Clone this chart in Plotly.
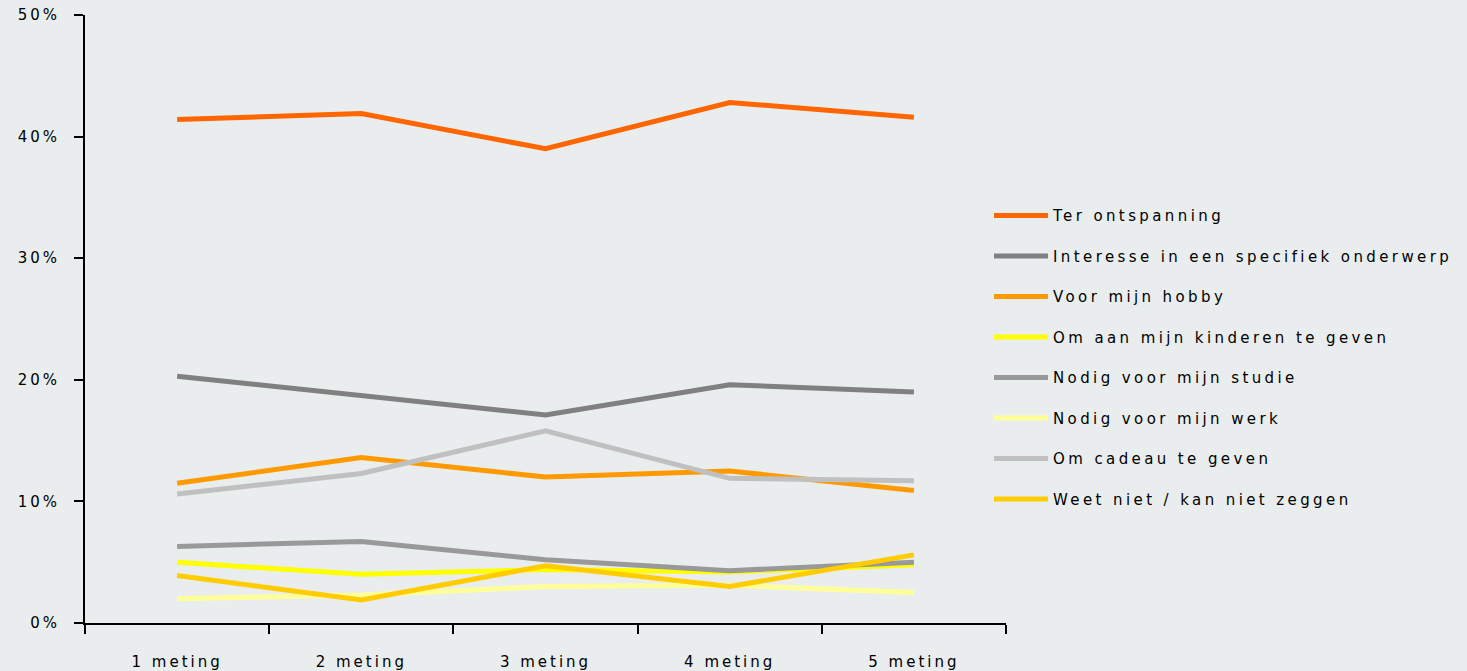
import plotly.graph_objects as go

categories = ["1 meting", "2 meting", "3 meting", "4 meting", "5 meting"]

ter_ontspanning = [41.4, 41.9, 39.0, 42.8, 41.6]
interesse = [20.3, 18.7, 17.1, 19.6, 19.0]
hobby = [11.5, 13.6, 12.0, 12.5, 10.9]
kinderen = [5.0, 4.0, 4.4, 4.2, 4.8]
studie = [6.3, 6.7, 5.2, 4.3, 5.0]
werk = [2.0, 2.3, 3.0, 3.1, 2.5]
cadeau = [10.6, 12.3, 15.8, 11.9, 11.7]
weet_niet = [3.9, 1.9, 4.7, 3.0, 5.6]

series_names = [
    "Ter ontspanning",
    "Interesse in een specifiek onderwerp",
    "Voor mijn hobby",
    "Om aan mijn kinderen te geven",
    "Nodig voor mijn studie",
    "Nodig voor mijn werk",
    "Om cadeau te geven",
    "Weet niet / kan niet zeggen",
]
series_values = [ter_ontspanning, interesse, hobby, kinderen, studie, werk, cadeau, weet_niet]
series_colors = ["#FF6600", "#808080", "#FF9900", "#FFFF00", "#999999", "#FFFF99", "#C0C0C0", "#FFCC00"]

FONT = "Verdana, DejaVu Sans, sans-serif"
BG = "#E9EDEE"

fig = go.Figure()
for i, (name, vals, col) in enumerate(zip(series_names, series_values, series_colors)):
    fig.add_trace(go.Scatter(
        x=categories, y=[v / 100 for v in vals], mode="lines", name=name,
        line=dict(color=col, width=5), legendgroup=f"g{i}",
    ))

fig.update_layout(
    width=1467, height=671,
    paper_bgcolor=BG, plot_bgcolor=BG,
    margin=dict(l=85, r=461, t=15, b=48, autoexpand=False),
    font=dict(family=FONT, size=15, color="#000000"),
    showlegend=True,
    legend=dict(
        x=1.0076, xanchor="left", y=0.697, yanchor="top",
        bgcolor="rgba(0,0,0,0)", font=dict(family=FONT, size=15, color="#000000"),
        tracegroupgap=18, itemwidth=30,
    ),
    xaxis=dict(
        type="category", range=[-0.5, 4.5], tickson="boundaries",
        showline=True, linecolor="#000000", linewidth=2,
        ticks="outside", ticklen=9, tickwidth=1.5, tickcolor="#000000",
        showgrid=False, zeroline=False, ticklabelstandoff=24, automargin=False,
    ),
    yaxis=dict(
        range=[0, 0.5], dtick=0.1, tickformat=".0%",
        showline=True, linecolor="#000000", linewidth=2,
        ticks="outside", ticklen=9, tickwidth=1.5, tickcolor="#000000",
        showgrid=False, zeroline=False, ticklabelstandoff=11, automargin=False,
    ),
)

post = (
    "var s=document.createElement('style');"
    "s.innerHTML='html,body{margin:0;padding:0;background:#E9EDEE;overflow:hidden}"
    " .xtick text,.ytick text{letter-spacing:3px}"
    " .legendtext{letter-spacing:3.4px}"
    " .legend g, .legend .scrollbox{clip-path:none !important}';"
    "document.head.appendChild(s);"
    "document.querySelectorAll('.legendlines path').forEach(function(p){p.setAttribute('d','M-19,0h54');});"
)
fig.write_html("out.html", post_script=post, config={"displayModeBar": False})
